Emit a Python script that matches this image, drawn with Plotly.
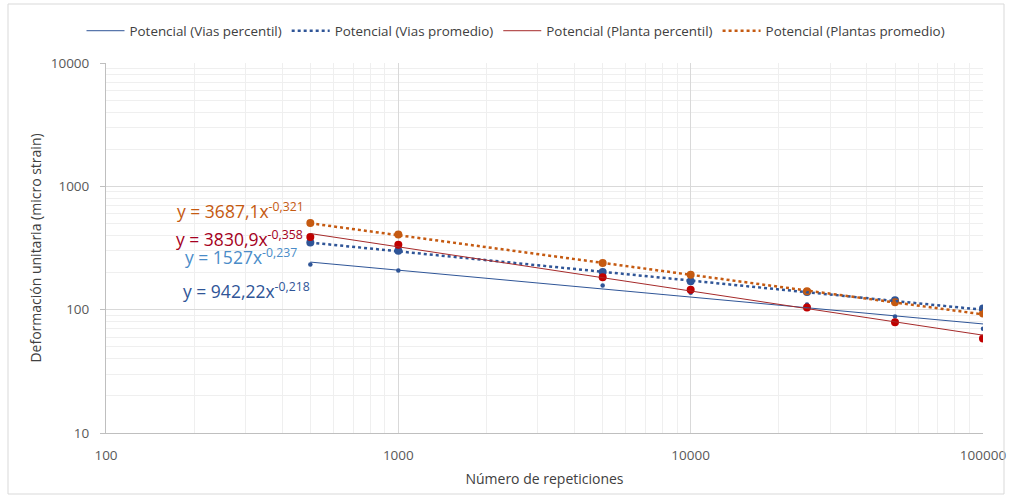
import plotly.graph_objects as go
import numpy as np

reps = [500, 1000, 5000, 10000, 25000, 50000, 100000]
vias_percentil = [232, 208, 157, 137, 110, 88, 70]
vias_promedio = [351, 301, 202, 170, 139, 119, 102]
planta_percentil = [388, 336, 183, 145, 104, 79, 58.5]
plantas_promedio = [505, 406, 239, 192, 141, 115, 93]

x_ticks = [100, 1000, 10000, 100000]
x_ticklabels = ["100", "1000", "10000", "100000"]
y_ticks = [10, 100, 1000, 10000]
y_ticklabels = ["10", "100", "1000", "10000"]

# power trendline coefficients shown on the chart: y = a * x^b
trend_names = ["Potencial (Vias percentil)", "Potencial (Vias promedio)",
               "Potencial (Planta percentil)", "Potencial (Plantas promedio)"]
trend_a = [942.22, 1527, 3830.9, 3687.1]
trend_b = [-0.218, -0.237, -0.358, -0.321]
eq_labels = ["y = 942,22x<sup>-0,218</sup>", "y = 1527x<sup>-0,237</sup>",
             "y = 3830,9x<sup>-0,358</sup>", "y = 3687,1x<sup>-0,321</sup>"]

W, H = 1010, 498
# plot-area edges in page pixels
L, R, T, B = 106, 983, 63, 433

series = [vias_percentil, vias_promedio, planta_percentil, plantas_promedio]
dot_colors = ["#2F5597", "#2F5597", "#C00000", "#C55A11"]
dot_sizes = [4.5, 8, 8, 8]
line_colors = ["#2F5597", "#2F5597", "#A52A2A", "#C55A11"]
line_dash = ["solid", "dot", "solid", "dot"]
line_width = [1, 2.5, 1, 2.5]

fig = go.Figure()
for i in range(4):
    fig.add_trace(go.Scatter(x=reps, y=series[i], mode="markers",
                             marker=dict(color=dot_colors[i], size=dot_sizes[i]),
                             showlegend=False, hoverinfo="x+y"))
xt = np.array([reps[0], reps[-1]], dtype=float)
for i in range(4):
    fig.add_trace(go.Scatter(x=xt, y=trend_a[i] * xt ** trend_b[i], mode="lines",
                             name=trend_names[i],
                             line=dict(color=line_colors[i], dash=line_dash[i],
                                       width=line_width[i])))

# equation labels (page pixel centers)
eq_pos = [(246, 290), (241, 256), (239, 238), (240, 210)]
eq_colors = ["#2F5597", "#4A8CC8", "#A50021", "#C55A11"]
for i in range(4):
    px, py = eq_pos[i]
    fig.add_annotation(x=(px - L) / (R - L), y=(B - py) / (B - T), xref="paper", yref="paper",
                       xanchor="center", yanchor="middle",
                       text=eq_labels[i], showarrow=False,
                       font=dict(size=17.5, color=eq_colors[i], family="Open Sans"))

# outer chart border
fig.add_shape(type="rect", xref="paper", yref="paper",
              x0=(8 - L) / (R - L), x1=(1004 - L) / (R - L),
              y0=(B - 494) / (B - T), y1=(B - 4) / (B - T),
              line=dict(color="#D9D9D9", width=1))

axis_common = dict(type="log", showline=True, linecolor="#BFBFBF", linewidth=1,
                   gridcolor="#D9D9D9", gridwidth=1,
                   tickfont=dict(size=13.5, color="#595959", family="Open Sans"),
                   minor=dict(dtick="D1", showgrid=True, gridcolor="#EFEFEF", ticks=""),
                   zeroline=False)

fig.update_layout(
    width=W, height=H,
    margin=dict(l=L, r=W - R, t=T, b=H - B, pad=0, autoexpand=False),
    paper_bgcolor="white", plot_bgcolor="white",
    font=dict(family="Open Sans", color="#595959"),
    xaxis=dict(range=[2, 5], tickvals=x_ticks, ticktext=x_ticklabels, ticks="",
               ticklabelstandoff=10,
               title=dict(text="Número de repeticiones",
                          font=dict(size=14, color="#404040"), standoff=10),
               **axis_common),
    yaxis=dict(range=[1, 4], tickvals=y_ticks, ticktext=y_ticklabels,
               ticks="outside", ticklen=5, tickcolor="#BFBFBF", ticklabelstandoff=8,
               title=dict(text="Deformación unitaria (micro strain)",
                          font=dict(size=14, color="#404040"), standoff=5),
               **axis_common),
    legend=dict(orientation="h", x=(516 - L) / (R - L), xanchor="center",
                y=1.0 + (T - 31) / (B - T),
                yanchor="middle", font=dict(size=13.4, color="#404040", family="Open Sans"),
                itemwidth=38, tracegroupgap=0),
    showlegend=True,
)

fig.write_html("out.html", config={"displayModeBar": False},
               post_script="document.body.style.margin='0';document.body.style.overflow='hidden';")
